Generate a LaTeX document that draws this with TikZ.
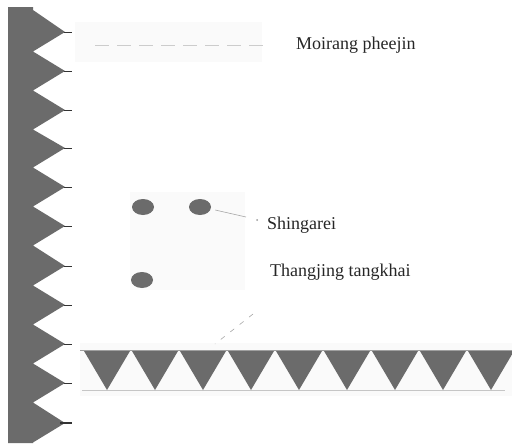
\documentclass[tikz,border=0pt]{standalone}
\usepackage{fontspec}
\setmainfont{Liberation Serif}
\usetikzlibrary{shapes.geometric}
\definecolor{sawgray}{gray}{0.42}
\definecolor{faint}{gray}{0.982}
\tikzset{
  lbl/.style={font=\fontsize{18}{20}\selectfont, text=black!85, inner sep=0pt, anchor=west},
  dotnode/.style={ellipse, fill=sawgray, minimum width=22pt, minimum height=16pt, inner sep=0pt},
  leader/.style={draw=gray!70, line width=0.6pt},
  tipdash/.style={draw=black!80, line width=1pt},
}
\begin{document}
\begin{tikzpicture}[x=1pt,y=-1pt]
\useasboundingbox (0,0) rectangle (512,447);
% faint background patches
\fill[faint] (75,22) rectangle (262,62);
\fill[faint] (130,192) rectangle (245,290);
\fill[faint] (80,343) rectangle (512,396);
% left saw-tooth strip
\fill[sawgray] (8,7) -- (33,7) -- (33,10)
  \foreach \t in {32,71,110,148,187,226,266,305,344,383,423} { -- (65,\t) -- (33,\t+19.5) }
  -- (33,443) -- (8,443) -- cycle;
\foreach \t in {32,71,110,148,187,226,266,305,344,383} { \draw[tipdash] (64,\t) -- (72,\t); }
\draw[tipdash, line width=1.6pt] (60,423) -- (72,423);
% Moirang pheejin
\draw[gray!40, dashed, dash pattern=on 14pt off 8pt, line width=0.8pt] (95,45) -- (268,45);
\node[lbl] (moirang) at (296,45) {Moirang pheejin};
% dots
\node[dotnode] (d1) at (143,207) {};
\node[dotnode] (d2) at (200,207) {};
\node[dotnode] (d3) at (142,280) {};
\coordinate (shend) at (246,217);
\draw[leader] (d2.east) ++(4,3) -- (shend);
\fill[gray!80] (257,220) circle (1pt);
\node[lbl] (shingarei) at (267,225) {Shingarei};
% Thangjing tangkhai
\node[lbl] (thangjing) at (270,272) {Thangjing tangkhai};
\coordinate (thA) at (253,314);
\coordinate (thB) at (215,344);
\draw[leader, dashed, dash pattern=on 5pt off 7pt] (thA) -- (thB);
% triangle bar
\draw[gray!75, line width=1pt] (80,350) -- (512,350);
\draw[gray!45, line width=0.8pt] (82,390) -- (505,390);
\foreach \k in {0,...,8} {
  \fill[sawgray] ({107+48*\k-23},351) -- ({107+48*\k+23},351) -- ({107+48*\k},390) -- cycle;
}
\end{tikzpicture}
\end{document}
